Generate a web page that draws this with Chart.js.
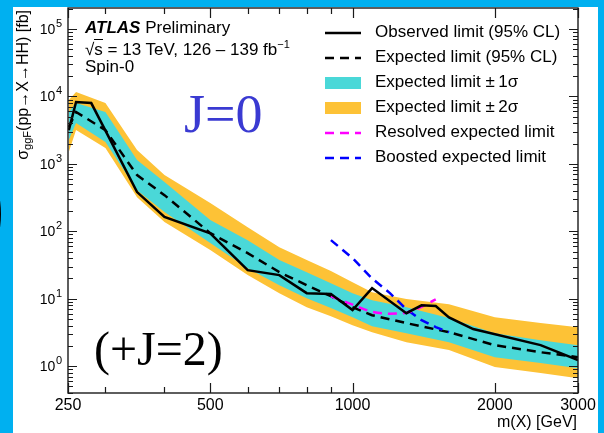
<!DOCTYPE html>
<html>
<head>
<meta charset="utf-8">
<script src="https://cdn.jsdelivr.net/npm/chart.js"></script>
<style>
  body { margin: 0; width: 604px; height: 433px; overflow: hidden; position: relative;
         background: #00b0f0; font-family: "Liberation Sans", Arial, sans-serif; }
  #panel { position: absolute; left: 13px; top: 7px; width: 585px; height: 426px; background: #fff; }
  #blob { position: absolute; left: -20px; top: 182px; width: 15px; height: 58px;
          border: 3px solid #000; border-radius: 50%; }
  #plot { position: absolute; left: 0; top: 0; }
  .t { position: absolute; white-space: nowrap; color: #000; line-height: 1; }
  .serif { font-family: "Liberation Serif", "Times New Roman", serif; }
</style>
</head>
<body>
<div id="panel"></div>
<div id="blob"></div>
<canvas id="plot" width="604" height="433"></canvas>

<div class="t" style="left:85px; top:19px; font-size:17px;"><b><i>ATLAS</i></b> Preliminary</div>
<div class="t" style="left:85px; top:39px; font-size:17px;">√<span style="border-top:1.3px solid #000;">s</span> = 13 TeV, 126 – 139 fb<sup style="font-size:11px; vertical-align:7px;">−1</sup></div>
<div class="t" style="left:85px; top:58px; font-size:17px;">Spin-0</div>

<div class="t serif" style="left:184px; top:87px; font-size:54px; color:#3a3ad2;">J=0</div>
<div class="t serif" style="left:94px; top:325px; font-size:48px;">(+J=2)</div>

<div class="t" style="left:15px; top:230px; width:220px; height:16px; font-size:16px; text-align:right;
     transform-origin:0 0; transform:rotate(-90deg);">σ<sub style="font-size:11px; vertical-align:-3px;">ggF</sub>(pp→X→HH) [fb]</div>
<div class="t" style="right:27px; top:414px; font-size:16px;">m(X) [GeV]</div>

<div id="legendText"></div>

<script>
// ---- data ----
const bandMass = [251, 260, 300, 350, 400, 500, 600, 700, 800, 900, 1000, 1100, 1300, 1600, 2000, 2500, 3000];
const expected = [3520, 5870, 3170, 682, 344, 94, 47.5, 24.8, 15.9, 10.9, 7.5, 5.7, 4.35, 3.19, 2.05, 1.61, 1.36];
const plus1    = [5870, 7980, 5870, 1138, 537, 147, 74, 37.4, 24.8, 17.0, 12.1, 9.5, 7.5, 5.2, 3.09, 2.43, 2.05];
const minus1   = [2255, 4030, 2105, 408, 193, 67, 28.4, 15.9, 10.2, 7.3, 5.3, 3.92, 3.09, 2.27, 1.36, 1.11, 0.93];
const plus2    = [8850, 11620, 7980, 1600, 682, 262, 115, 58, 37.4, 25.7, 17.6, 12.5, 9.9, 8.3, 5.3, 4.35, 3.79];
const minus2   = [1496, 3170, 1715, 321, 137, 53, 22.4, 12.1, 7.5, 5.5, 4.06, 3.19, 2.27, 1.73, 0.97, 0.79, 0.66];

const obsMass  = [251, 260, 280, 350, 400, 500, 600, 700, 800, 900, 1000, 1100, 1300, 1400, 1500, 1600, 1800, 2500, 3000];
const observed = [3170, 8260, 7980, 382, 163, 93, 26.5, 22.4, 12.1, 11.8, 6.8, 14.4, 6.1, 8.0, 7.8, 5.3, 3.55, 2.05, 1.23];

const resMass  = [900, 1000, 1100, 1200, 1300, 1400, 1500];
const resolved = [10.9, 8.2, 6.4, 6.0, 6.2, 7.6, 9.8];

const booMass  = [900, 1000, 1100, 1200, 1300, 1400, 1500, 1600];
const boosted  = [74, 40, 20, 12.1, 7.0, 4.8, 3.8, 3.2];

const xTickLabels = [250, 500, 1000, 2000, 3000];
const xMinorTicks = [300, 400, 600, 700, 800, 900];
const yDecades = [0, 1, 2, 3, 4, 5];

const legendLabels = [
    "Observed limit (95% CL)",
    "Expected limit (95% CL)",
    "Expected limit ±\u20091σ",
    "Expected limit ±\u20092σ",
    "Resolved expected limit",
    "Boosted expected limit"
];

const CYAN = "#4ad8d8";
const ORANGE = "#fdc236";
const DASH = [9, 6];

// legend swatch styles, same order as legendLabels
const legendSwatch = [
    { kind: "line", color: "#000", dash: [] },
    { kind: "line", color: "#000", dash: DASH },
    { kind: "box", color: CYAN },
    { kind: "box", color: ORANGE },
    { kind: "line", color: "#ff00ff", dash: DASH },
    { kind: "line", color: "#0000ff", dash: DASH }
];

function pts(xs, ys) {
    return xs.map((x, i) => ({ x: x, y: ys[i] }));
}

// legend text as html
const LEG_X = 375, LEG_Y = 33, LEG_STEP = 25;
document.getElementById("legendText").innerHTML = legendLabels.map((l, i) =>
    `<div class="t" style="left:${LEG_X}px; top:${LEG_Y + i * LEG_STEP - 10}px; font-size:17px;">${l}</div>`
).join("");

const axisDecor = {
    id: "axisDecor",
    afterDraw(chart) {
        const ctx = chart.ctx;
        const a = chart.chartArea;
        const xs = chart.scales.x, ys = chart.scales.y;
        ctx.save();

        // frame
        ctx.strokeStyle = "#1a1a1a";
        ctx.lineWidth = 1.4;
        ctx.strokeRect(a.left, a.top, a.right - a.left, a.bottom - a.top);

        // ticks, inside, all four sides
        ctx.lineWidth = 1.2;
        ctx.beginPath();
        const xTick = (v, len) => {
            const px = Math.round(xs.getPixelForValue(v)) + 0.5;
            ctx.moveTo(px, a.bottom); ctx.lineTo(px, a.bottom - len);
            ctx.moveTo(px, a.top); ctx.lineTo(px, a.top + len);
        };
        xTickLabels.forEach(v => xTick(v, 10));
        xMinorTicks.forEach(v => xTick(v, 6));

        const yTick = (v, len) => {
            const py = Math.round(ys.getPixelForValue(v)) + 0.5;
            ctx.moveTo(a.left, py); ctx.lineTo(a.left + len, py);
            ctx.moveTo(a.right, py); ctx.lineTo(a.right - len, py);
        };
        for (let d = -1; d <= 5; d++) {
            for (let k = 1; k <= 9; k++) {
                const v = k * Math.pow(10, d);
                if (v < ys.min || v > ys.max) continue;
                yTick(v, k === 1 ? 9 : 5);
            }
        }
        ctx.stroke();

        // tick labels
        ctx.fillStyle = "#000";
        ctx.font = '16px "Liberation Sans", Arial, sans-serif';
        ctx.textAlign = "center";
        ctx.textBaseline = "alphabetic";
        xTickLabels.forEach(v => {
            ctx.fillText(String(v), xs.getPixelForValue(v), a.bottom + 17);
        });

        ctx.textAlign = "right";
        yDecades.forEach(d => {
            const py = ys.getPixelForValue(Math.pow(10, d));
            ctx.font = '11px "Liberation Sans", Arial, sans-serif';
            const ew = ctx.measureText(String(d)).width;
            ctx.fillText(String(d), a.left - 6, py - 2);
            ctx.font = '14px "Liberation Sans", Arial, sans-serif';
            ctx.fillText("10", a.left - 6 - ew - 0.5, py + 5);
        });

        // legend swatches
        legendSwatch.forEach((s, i) => {
            const cy = LEG_Y + i * LEG_STEP;
            if (s.kind === "box") {
                ctx.fillStyle = s.color;
                ctx.fillRect(325, cy - 6, 36, 12);
            } else {
                ctx.strokeStyle = s.color;
                ctx.lineWidth = 2.5;
                ctx.setLineDash(s.dash);
                ctx.beginPath();
                ctx.moveTo(325, cy);
                ctx.lineTo(361, cy);
                ctx.stroke();
                ctx.setLineDash([]);
            }
        });

        ctx.restore();
    }
};

new Chart(document.getElementById("plot"), {
    type: "line",
    data: {
        datasets: [
            { label: "Observed", data: pts(obsMass, observed), borderColor: "#000", borderWidth: 2.5, order: 0 },
            { label: "Expected", data: pts(bandMass, expected), borderColor: "#000", borderWidth: 2.5, borderDash: DASH, order: 1 },
            { label: "Resolved", data: pts(resMass, resolved), borderColor: "#ff00ff", borderWidth: 2.5, borderDash: DASH, order: 0, cubicInterpolationMode: "monotone" },
            { label: "Boosted", data: pts(booMass, boosted), borderColor: "#0000ff", borderWidth: 2.5, borderDash: DASH, order: 0 },
            { label: "+1s", data: pts(bandMass, plus1), borderWidth: 0, borderColor: "rgba(0,0,0,0)", backgroundColor: CYAN, fill: 5, order: 2 },
            { label: "-1s", data: pts(bandMass, minus1), borderWidth: 0, borderColor: "rgba(0,0,0,0)", fill: false, order: 2 },
            { label: "+2s", data: pts(bandMass, plus2), borderWidth: 0, borderColor: "rgba(0,0,0,0)", backgroundColor: ORANGE, fill: 7, order: 3 },
            { label: "-2s", data: pts(bandMass, minus2), borderWidth: 0, borderColor: "rgba(0,0,0,0)", fill: false, order: 3 }
        ]
    },
    options: {
        responsive: false,
        animation: false,
        devicePixelRatio: 1,
        layout: { padding: { left: 68, right: 26, top: 8, bottom: 40 } },
        elements: { point: { radius: 0 }, line: { tension: 0 } },
        plugins: { legend: { display: false }, tooltip: { enabled: false } },
        scales: {
            x: { type: "logarithmic", min: 250, max: 3000, display: false },
            y: { type: "logarithmic", min: 0.4, max: 2.05e5, display: false }
        }
    },
    plugins: [axisDecor]
});
</script>
</body>
</html>
